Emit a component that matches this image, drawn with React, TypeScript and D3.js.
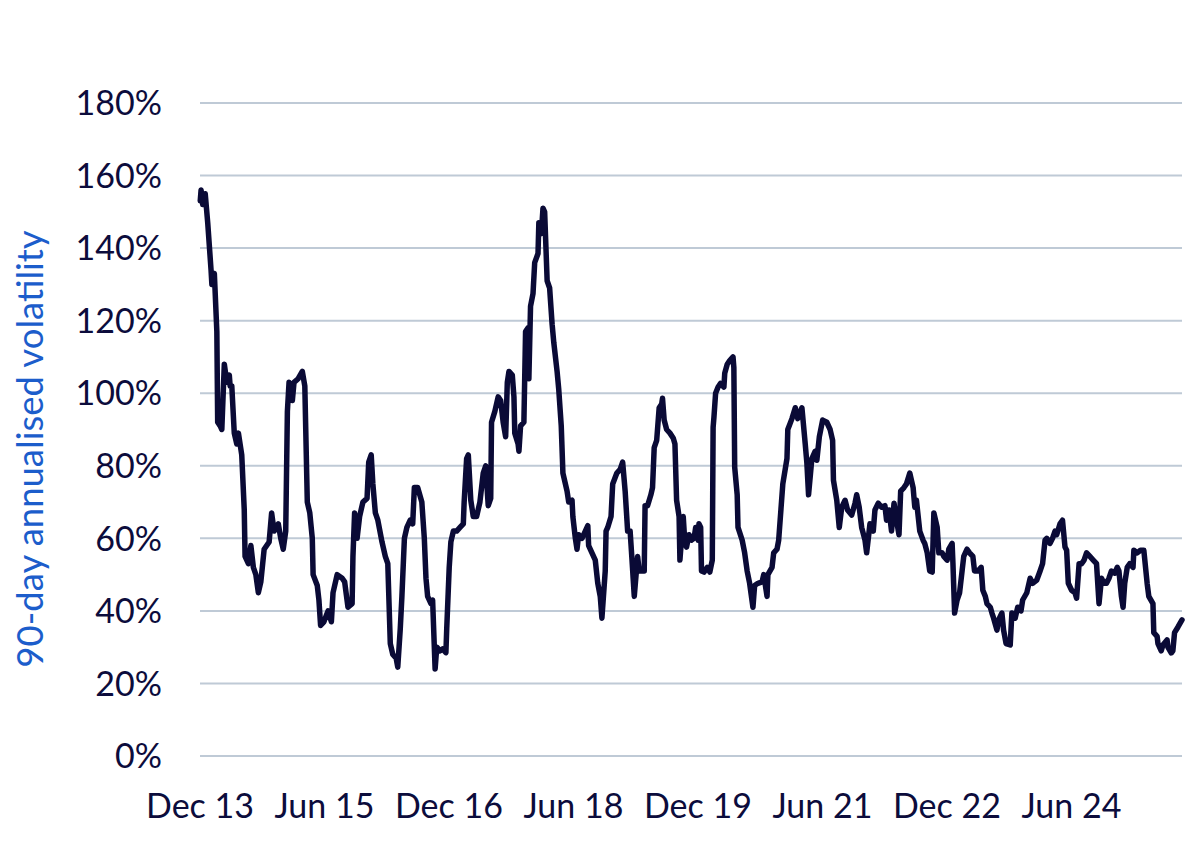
import React from "react";
import * as d3 from "d3";

const obsYears = [
  2013.92, 2013.93, 2013.95, 2013.98, 2014.01, 2014.05, 2014.06, 2014.09, 2014.12, 2014.13,
  2014.16, 2014.18, 2014.21, 2014.24, 2014.27, 2014.28, 2014.3, 2014.33, 2014.36, 2014.38,
  2014.42, 2014.45, 2014.46, 2014.5, 2014.53, 2014.56, 2014.59, 2014.62, 2014.65, 2014.69,
  2014.75, 2014.78, 2014.81, 2014.86, 2014.89, 2014.92, 2014.95, 2014.97, 2014.99, 2015.03,
  2015.05, 2015.1, 2015.15, 2015.18, 2015.21, 2015.24, 2015.27, 2015.28, 2015.33, 2015.35,
  2015.37, 2015.41, 2015.46, 2015.5, 2015.52, 2015.57, 2015.63, 2015.66, 2015.7, 2015.75,
  2015.76, 2015.78, 2015.81, 2015.84, 2015.88, 2015.93, 2015.95, 2015.98, 2016.0, 2016.03,
  2016.06, 2016.11, 2016.15, 2016.18, 2016.21, 2016.24, 2016.28, 2016.3, 2016.33, 2016.35,
  2016.38, 2016.41, 2016.45, 2016.48, 2016.5, 2016.54, 2016.59, 2016.62, 2016.64, 2016.66,
  2016.7, 2016.72, 2016.75, 2016.77, 2016.81, 2016.84, 2016.88, 2016.89, 2016.92, 2016.94,
  2016.97, 2017.01, 2017.05, 2017.09, 2017.1, 2017.13, 2017.15, 2017.18, 2017.21, 2017.25,
  2017.29, 2017.33, 2017.36, 2017.39, 2017.42, 2017.43, 2017.47, 2017.51, 2017.54, 2017.57,
  2017.6, 2017.62, 2017.64, 2017.68, 2017.7, 2017.71, 2017.75, 2017.76, 2017.78, 2017.82,
  2017.84, 2017.87, 2017.88, 2017.9, 2017.93, 2017.95, 2017.99, 2018.0, 2018.03, 2018.05,
  2018.07, 2018.1, 2018.13, 2018.16, 2018.18, 2018.22, 2018.24, 2018.27, 2018.29, 2018.34,
  2018.36, 2018.4, 2018.41, 2018.44, 2018.46, 2018.48, 2018.52, 2018.56, 2018.59, 2018.6,
  2018.64, 2018.68, 2018.71, 2018.74, 2018.76, 2018.8, 2018.81, 2018.83, 2018.87, 2018.89,
  2018.94, 2018.98, 2019.01, 2019.04, 2019.07, 2019.1, 2019.12, 2019.15, 2019.19, 2019.21,
  2019.24, 2019.27, 2019.28, 2019.31, 2019.35, 2019.37, 2019.39, 2019.42, 2019.45, 2019.48,
  2019.49, 2019.51, 2019.54, 2019.58, 2019.62, 2019.64, 2019.66, 2019.69, 2019.7, 2019.74,
  2019.76, 2019.78, 2019.81, 2019.84, 2019.87, 2019.89, 2019.92, 2019.93, 2019.95, 2019.96,
  2019.99, 2020.03, 2020.06, 2020.09, 2020.1, 2020.11, 2020.13, 2020.16, 2020.19, 2020.23,
  2020.24, 2020.27, 2020.3, 2020.34, 2020.35, 2020.36, 2020.39, 2020.4, 2020.45, 2020.48,
  2020.51, 2020.54, 2020.58, 2020.6, 2020.64, 2020.69, 2020.71, 2020.75, 2020.76, 2020.81,
  2020.83, 2020.87, 2020.89, 2020.94, 2020.99, 2021.0, 2021.05, 2021.09, 2021.12, 2021.17,
  2021.21, 2021.23, 2021.25, 2021.29, 2021.33, 2021.35, 2021.38, 2021.42, 2021.47, 2021.51,
  2021.54, 2021.55, 2021.59, 2021.62, 2021.65, 2021.69, 2021.72, 2021.77, 2021.81, 2021.83,
  2021.86, 2021.89, 2021.93, 2021.95, 2021.99, 2022.03, 2022.05, 2022.09, 2022.13, 2022.17,
  2022.19, 2022.22, 2022.25, 2022.28, 2022.31, 2022.34, 2022.36, 2022.4, 2022.43, 2022.47,
  2022.51, 2022.53, 2022.55, 2022.59, 2022.63, 2022.65, 2022.68, 2022.71, 2022.74, 2022.76,
  2022.8, 2022.82, 2022.86, 2022.88, 2022.92, 2022.94, 2022.98, 2022.99, 2023.01, 2023.04,
  2023.07, 2023.1, 2023.12, 2023.16, 2023.19, 2023.23, 2023.25, 2023.29, 2023.33, 2023.35,
  2023.38, 2023.4, 2023.44, 2023.46, 2023.48, 2023.52, 2023.54, 2023.58, 2023.6, 2023.63,
  2023.68, 2023.7, 2023.74, 2023.77, 2023.81, 2023.83, 2023.88, 2023.92, 2023.95, 2024.0,
  2024.04, 2024.07, 2024.1, 2024.12, 2024.16, 2024.19, 2024.22, 2024.24, 2024.28, 2024.31,
  2024.34, 2024.36, 2024.38, 2024.42, 2024.46, 2024.48, 2024.51, 2024.54, 2024.57, 2024.6,
  2024.64, 2024.68, 2024.72, 2024.75, 2024.78, 2024.81, 2024.84, 2024.87, 2024.9, 2024.94,
  2024.97, 2024.99, 2025.02, 2025.04, 2025.06, 2025.09, 2025.12, 2025.16, 2025.17, 2025.21,
  2025.25, 2025.29, 2025.33, 2025.35, 2025.4, 2025.41, 2025.45, 2025.46, 2025.5, 2025.52,
  2025.57, 2025.58, 2025.62, 2025.64, 2025.66, 2025.7, 2025.75,
];

// 90-day annualised volatility, %
const volatility = [
  153, 156, 152, 155, 147, 134, 130, 133, 117, 92,
  91, 90, 108, 103, 105, 102, 102, 89, 86, 89,
  83, 68, 55, 53, 58, 52, 50, 45, 48, 57,
  59, 67, 62, 64, 60, 57, 62, 95, 103, 98,
  103, 104, 106, 102, 70, 67, 60, 50, 47, 43,
  36, 37, 40, 37, 45, 50, 49, 48, 41, 42,
  55, 67, 60, 66, 70, 71, 81, 83, 75, 67,
  65, 59, 55, 53, 31, 28, 27, 24.5, 35, 44,
  60, 63, 65, 64, 74, 74, 70, 60, 49, 44,
  42, 43, 24, 30, 29, 29.5, 28.5, 35, 52, 59,
  62, 62, 63, 64, 70, 82, 83, 70.5, 66, 66,
  70, 78, 80, 69, 71, 92, 95, 99, 98, 92,
  88, 103, 106, 105, 99, 89, 86, 84, 91, 92,
  117, 118, 104, 124, 127.5, 136, 138.5, 147, 144, 151,
  150, 131, 129, 119, 114, 106, 101, 91, 78, 73,
  70, 70.5, 66, 60, 57, 61, 60, 62, 63.5, 58,
  56, 54, 47.6, 44, 38, 51, 62, 63, 66, 75,
  78, 79, 81, 73, 62, 62, 55, 44, 55, 51,
  51, 51, 69, 69, 72, 74, 85, 87, 96, 97,
  98.6, 92.6, 90, 89, 87.6, 86, 70.5, 66, 54, 66,
  58.6, 57.6, 61, 59.5, 60, 63, 59.5, 64, 63, 51,
  50.7, 52, 50.7, 54, 90.6, 93.4, 100, 101.7, 102.7, 101.7,
  105.5, 108, 109, 110, 107, 79.6, 72, 63, 59.5, 56,
  51, 47.6, 41, 47, 47.6, 48, 50, 44, 50, 52,
  56, 57, 59.5, 75, 82, 90, 93, 96, 93, 96,
  86, 80.7, 72, 82, 84, 81.5, 88, 92.6, 92, 90,
  87, 76, 70.5, 63, 68.6, 70.5, 67.8, 66.4, 69.7, 72,
  68.6, 63, 59.5, 56, 64, 62, 67.8, 69.7, 68.6, 69,
  65, 67.8, 62, 69.7, 65, 61, 73, 74, 75, 78,
  74, 68.6, 70.5, 62, 59.5, 58.6, 56, 51, 50.7, 67,
  63, 56, 56, 55, 54, 57, 58.6, 53, 39.4, 43,
  45, 51, 55, 57, 56, 55, 51, 51, 52, 45.7,
  44, 42, 41, 39.4, 38, 34.7, 37.5, 39.4, 34.7, 31,
  30.6, 39.4, 38, 41, 40, 43, 45, 49, 47.6, 48.5,
  51, 53, 59.5, 60, 58.6, 60, 62, 61, 64, 65,
  57.6, 56.7, 47.6, 45.7, 45, 43.5, 53, 53, 54, 56,
  55, 54, 53, 42, 49, 47.6, 47.6, 49, 51, 50.4,
  52, 51, 44, 41, 47.6, 52, 53, 52, 56.7, 56,
  56.7, 56.7, 47.6, 44, 42, 34, 33, 31, 29, 30.6,
  32, 30, 28.4, 29, 34, 35.5, 37.5,
];

const yTicks = [0, 20, 40, 60, 80, 100, 120, 140, 160, 180];
const xTickYears = [2013.917, 2015.417, 2016.917, 2018.417, 2019.917, 2021.417, 2022.917, 2024.417];
const xTickLabels = ["Dec 13", "Jun 15", "Dec 16", "Jun 18", "Dec 19", "Jun 21", "Dec 22", "Jun 24"];
const yTitle = "90-day annualised volatility";

const W = 1200;
const H = 857;
const margin = { left: 200, right: 18, top: 103, bottom: 101 };
const FONT = "Lato, 'Open Sans', sans-serif";
const INK = "#0c0c3c";

export default function App() {
  const x = d3
    .scaleLinear()
    .domain([2013.917, 2025.75])
    .range([margin.left, W - margin.right]);
  const y = d3
    .scaleLinear()
    .domain([0, 180])
    .range([H - margin.bottom, margin.top]);

  const pts: [number, number][] = obsYears.map((t, i) => [t, volatility[i]]);
  const line = d3
    .line<[number, number]>()
    .x((d) => x(d[0]))
    .y((d) => y(d[1]));

  return (
    <div style={{ position: "absolute", left: 0, top: 0 }}>
      <svg width={W} height={H} style={{ display: "block", background: "#fff" }}>
        {yTicks.map((t) => (
          <g key={t}>
            <line
              x1={x.range()[0]}
              x2={x.range()[1]}
              y1={y(t)}
              y2={y(t)}
              stroke="#bfcad6"
              strokeWidth={2}
            />
            <text
              x={162}
              y={y(t)}
              dy="0.36em"
              textAnchor="end"
              fontFamily={FONT}
              fontSize={34}
              fill={INK}
            >
              {t}%
            </text>
          </g>
        ))}
        {xTickYears.map((t, i) => (
          <text
            key={xTickLabels[i]}
            x={x(t)}
            y={818}
            textAnchor="middle"
            fontFamily={FONT}
            fontSize={34}
            fill={INK}
          >
            {xTickLabels[i]}
          </text>
        ))}
        <text
          transform={`translate(43 449) rotate(-90)`}
          textAnchor="middle"
          fontFamily={FONT}
          fontSize={36.5}
          fill="#1c5dcb"
        >
          {yTitle}
        </text>
        <path
          d={line(pts) ?? ""}
          fill="none"
          stroke="#0a0a36"
          strokeWidth={5.5}
          strokeLinejoin="round"
          strokeLinecap="round"
        />
      </svg>
    </div>
  );
}
